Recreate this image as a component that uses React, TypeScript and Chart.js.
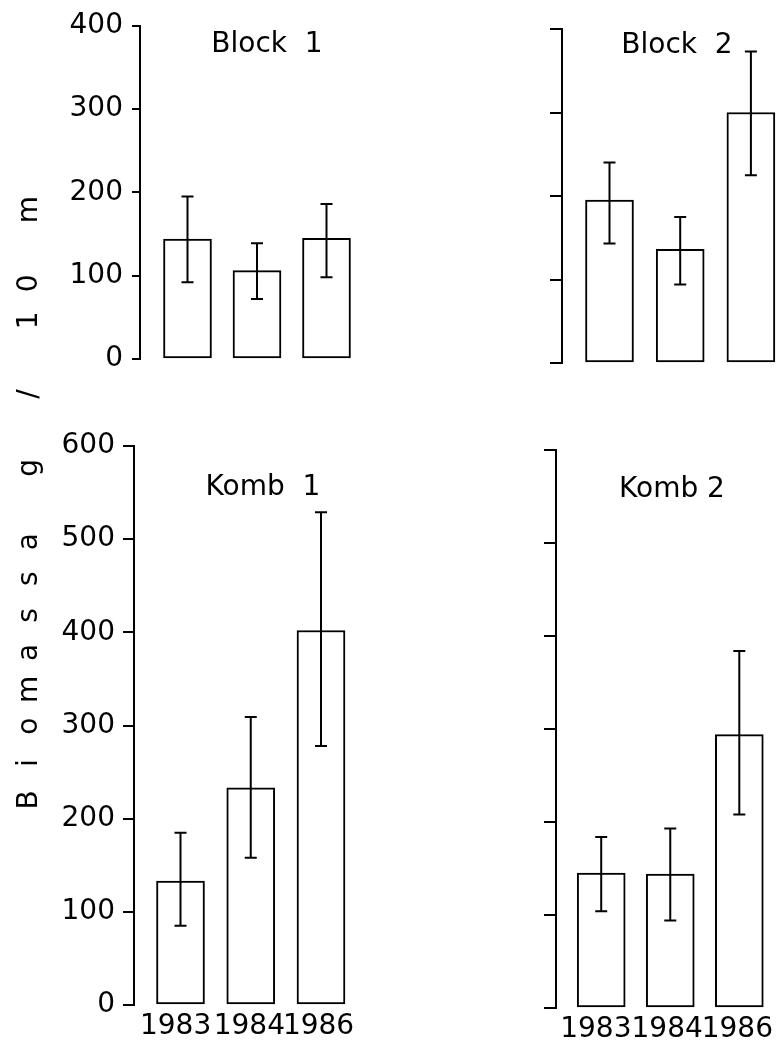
import React, { useEffect, useRef } from "react";
import { Chart, registerables } from "chart.js";

Chart.register(...registerables);

// ---- data ----
const years = ["1983", "1984", "1986"];

const block1Mean = [144, 106, 145];
const block1Hi = [195, 139, 186];
const block1Lo = [92, 72, 98];

const block2Mean = [195, 136, 300];
const block2Hi = [240, 175, 373];
const block2Lo = [143, 94, 225];

const komb1Mean = [133, 233, 402];
const komb1Hi = [185, 309, 529];
const komb1Lo = [85, 158, 278];

const komb2Mean = [145, 144, 294];
const komb2Hi = [184, 193, 384];
const komb2Lo = [104, 94, 208];

const axisTitleText = "Biomassa g / 10 m";

// ---- layout ----
const W = 778;
const H = 1045;
const FONT = "'DejaVu Sans', 'Liberation Sans', sans-serif";

type PanelCfg = {
  title: string;
  titleX: number;
  titleY: number;
  mean: number[];
  hi: number[];
  lo: number[];
  yMax: number;
  axisX: number;
  top: number;
  bottom: number;
  c0: number;
  step: number;
  right: number;
  showYLabels: boolean;
  showXLabels: boolean;
  tickLen: number;
  tickPad: number;
  labelPos?: number[];
  axisTitle?: boolean;
};

const panels: PanelCfg[] = [
  {
    title: "Block  1", titleX: 267, titleY: 52,
    mean: block1Mean, hi: block1Hi, lo: block1Lo,
    yMax: 400, axisX: 140, top: 25, bottom: 399,
    c0: 187.5, step: 69.5, right: 368,
    showYLabels: true, showXLabels: false, tickLen: 8, tickPad: 9,
  },
  {
    title: "Block  2", titleX: 677, titleY: 53,
    mean: block2Mean, hi: block2Hi, lo: block2Lo,
    yMax: 400, axisX: 562, top: 29, bottom: 403,
    c0: 609.5, step: 70.7, right: 778,
    showYLabels: false, showXLabels: false, tickLen: 12, tickPad: 8,
  },
  {
    title: "Komb  1", titleX: 263, titleY: 495,
    mean: komb1Mean, hi: komb1Hi, lo: komb1Lo,
    yMax: 600, axisX: 134, top: 446, bottom: 1005,
    c0: 180.5, step: 70.25, right: 368,
    showYLabels: true, showXLabels: true, tickLen: 11, tickPad: 8,
    labelPos: [-0.07, 0.98, 1.965],
    axisTitle: true,
  },
  {
    title: "Komb 2", titleX: 672, titleY: 497,
    mean: komb2Mean, hi: komb2Hi, lo: komb2Lo,
    yMax: 600, axisX: 556, top: 450, bottom: 1008,
    c0: 602, step: 70.25, right: 778,
    showYLabels: false, showXLabels: true, tickLen: 12, tickPad: 8,
    labelPos: [-0.078, 0.955, 1.972],
  },
];

const X_AXIS_H = 40;

function makeChart(canvas: HTMLCanvasElement, p: PanelCfg) {
  const xMin = -(p.c0 - p.axisX) / p.step;
  const xMax = (p.right - p.c0) / p.step;
  const labelPos = p.labelPos ?? [0, 1, 2];

  const decor = {
    id: "decor" + p.title.replace(/\s/g, ""),
    afterDatasetsDraw(chart: any) {
      const ctx = chart.ctx as CanvasRenderingContext2D;
      const xs = chart.scales.x;
      const ys = chart.scales.y;
      ctx.save();
      ctx.strokeStyle = "#000";
      ctx.lineWidth = 2;
      p.hi.forEach((h, i) => {
        const x = xs.getPixelForValue(i);
        const y1 = ys.getPixelForValue(h);
        const y2 = ys.getPixelForValue(p.lo[i]);
        ctx.beginPath();
        ctx.moveTo(x, y1);
        ctx.lineTo(x, y2);
        ctx.moveTo(x - 6, y1);
        ctx.lineTo(x + 6, y1);
        ctx.moveTo(x - 6, y2);
        ctx.lineTo(x + 6, y2);
        ctx.stroke();
      });
      ctx.fillStyle = "#000";
      ctx.font = `28px ${FONT}`;
      ctx.textAlign = "center";
      ctx.textBaseline = "alphabetic";
      ctx.fillText(p.title, p.titleX, p.titleY);

      if (p.axisTitle) {
        ctx.font = `28px ${FONT}`;
        const chars = axisTitleText.split("");
        const startY = 800;
        const stepY = 36.9;
        chars.forEach((ch, i) => {
          if (ch === " ") return;
          ctx.save();
          ctx.translate(37, startY - i * stepY);
          ctx.rotate(-Math.PI / 2);
          ctx.fillText(ch, 0, 0);
          ctx.restore();
        });
      }
      ctx.restore();
    },
  };

  return new Chart(canvas, {
    type: "bar",
    data: {
      datasets: [
        {
          data: p.mean.map((v, i) => ({ x: i, y: v })),
          backgroundColor: "#ffffff",
          borderColor: "#000000",
          borderWidth: 2,
          borderSkipped: false,
          barThickness: 48,
        },
      ],
    },
    options: {
      responsive: false,
      animation: false,
      events: [],
      layout: {
        padding: {
          left: 0,
          top: p.top,
          right: W - p.right,
          bottom: p.showXLabels ? H - p.bottom - X_AXIS_H : H - p.bottom,
        },
      },
      plugins: {
        legend: { display: false },
        tooltip: { enabled: false },
        title: { display: false },
      },
      scales: {
        x: {
          type: "linear",
          display: p.showXLabels,
          min: xMin,
          max: xMax,
          offset: false,
          grid: { display: false, drawTicks: false },
          border: { display: false },
          afterBuildTicks: (scale: any) => {
            scale.ticks = labelPos.map((v) => ({ value: v }));
          },
          afterFit: (scale: any) => {
            scale.height = X_AXIS_H;
          },
          ticks: {
            autoSkip: false,
            maxRotation: 0,
            minRotation: 0,
            padding: 5,
            color: "#000",
            font: { family: FONT, size: 28 },
            callback: (v: any) => years[Math.round(Number(v))] ?? "",
          },
        },
        y: {
          type: "linear",
          min: 0,
          max: p.yMax,
          afterFit: (scale: any) => {
            scale.width = p.axisX;
          },
          border: { display: true, color: "#000", width: 2 },
          grid: {
            display: true,
            drawOnChartArea: false,
            drawTicks: true,
            tickLength: p.tickLen,
            color: "#000",
            lineWidth: 2,
          },
          ticks: {
            display: p.showYLabels,
            stepSize: 100,
            padding: p.tickPad,
            color: "#000",
            font: { family: FONT, size: 28 },
          },
        },
      },
    },
    plugins: [decor],
  } as any);
}

function Panel({ cfg }: { cfg: PanelCfg }) {
  const ref = useRef<HTMLCanvasElement | null>(null);
  useEffect(() => {
    if (!ref.current) return;
    const chart = makeChart(ref.current, cfg);
    return () => chart.destroy();
  }, [cfg]);
  return (
    <canvas
      ref={ref}
      width={W}
      height={H}
      style={{ position: "absolute", left: 0, top: 0, width: W, height: H }}
    />
  );
}

export default function App() {
  return (
    <div
      style={{
        position: "absolute",
        left: 0,
        top: 0,
        width: W,
        height: H,
        background: "#ffffff",
        overflow: "hidden",
      }}
    >
      {panels.map((p) => (
        <Panel key={p.title} cfg={p} />
      ))}
    </div>
  );
}
